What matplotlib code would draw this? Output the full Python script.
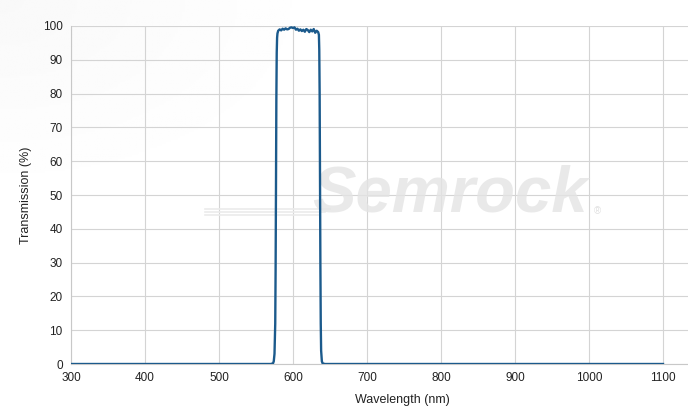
import numpy as np
import matplotlib.pyplot as plt

plt.rcParams['font.family'] = ['Liberation Sans', 'DejaVu Sans']

# transmission spectrum (nm, %)
wavelength = [300, 500, 570, 573, 574, 575, 576, 576.5, 577, 577.5, 578, 578.5, 579,
              580, 582, 584, 586, 588, 590, 592, 594, 596, 598, 600, 602, 604,
              606, 608, 610, 612, 614, 616, 618, 620, 622, 624, 626, 628, 630,
              632, 634, 635, 635.5, 636, 636.5, 637, 637.5, 638, 639, 640, 643,
              700, 900, 1100]
transmission = [0, 0, 0, 0.2, 0.8, 3, 12, 28, 52, 78, 92, 96.5, 97.8,
                98.6, 99.0, 98.7, 99.2, 98.9, 99.3, 99.0, 99.1, 99.5, 99.6, 99.4, 99.6, 98.9,
                99.2, 98.6, 99.0, 98.5, 98.9, 98.3, 99.1, 98.8, 98.2, 98.9, 98.4, 99.1, 98.0,
                98.6, 98.2, 97.4, 93, 80, 55, 30, 12, 4, 0.8, 0.2, 0,
                0, 0, 0]

x_ticks = [300, 400, 500, 600, 700, 800, 900, 1000, 1100]
y_ticks = [0, 10, 20, 30, 40, 50, 60, 70, 80, 90, 100]

W, H = 688, 411
fig = plt.figure(figsize=(W / 100, H / 100), dpi=100)

# faint grey wash in the top-left corner of the background
bg = fig.add_axes([0, 0, 1, 1], zorder=-10)
yy, xx = np.mgrid[0:1:200j, 0:1:300j]
shade = 1 - 0.025 * np.clip(1 - np.hypot(xx / 0.5, (1 - yy) / 0.5), 0, 1)
bg.imshow(shade, cmap='gray', vmin=0, vmax=1, extent=[0, 1, 0, 1],
          aspect='auto', origin='lower')
bg.axis('off')

left, bottom, top = 71, 364, 26
ax = fig.add_axes([left / W, 1 - bottom / H, (W - left) / W, (bottom - top) / H])
ax.set_facecolor('none')

ax.plot(wavelength, transmission, color='#1b5a8c', lw=1.7, zorder=3,
        solid_joinstyle='round')

ax.set_xlim(300, 300 + (W - left) / 0.74)
ax.set_ylim(0, 100)
ax.set_xticks(x_ticks)
ax.set_yticks(y_ticks)
ax.grid(True, color='#d4d4d4', lw=0.8)
ax.set_axisbelow(True)
ax.tick_params(length=0, labelsize=8.5, colors='#222222', pad=6)

for side in ['top', 'right']:
    ax.spines[side].set_visible(False)
for side in ['left', 'bottom']:
    ax.spines[side].set_color('#c8c8c8')
    ax.spines[side].set_linewidth(0.8)

ax.set_xlabel('Wavelength (nm)', fontsize=9, color='#222222')
ax.set_ylabel('Transmission (%)', fontsize=9, color='#222222')
ax.xaxis.set_label_coords((402 - left) / (W - left), -0.088)
ax.yaxis.set_label_coords((32 - left) / (W - left), 0.5)

# watermark
for yv, x1 in [(46.0, 330), (45.0, 325), (44.1, 320)]:
    ax.axhline(y=yv, xmin=(205 - left) / (W - left), xmax=(x1 - left) / (W - left),
               color='#ebebeb', lw=1.2, zorder=1)
ax.text((450 - left) / (W - left), (364 - 194) / 338, 'Semrock', transform=ax.transAxes,
        fontsize=47, fontweight='bold', style='italic', color='#e4e4e4', alpha=0.8,
        ha='center', va='center', zorder=1)
ax.text((597 - left) / (W - left), (364 - 211) / 338, '\u00ae', transform=ax.transAxes,
        fontsize=7, color='#e0e0e0', ha='center', va='center', zorder=1)

fig.savefig('out.png', dpi=100)
